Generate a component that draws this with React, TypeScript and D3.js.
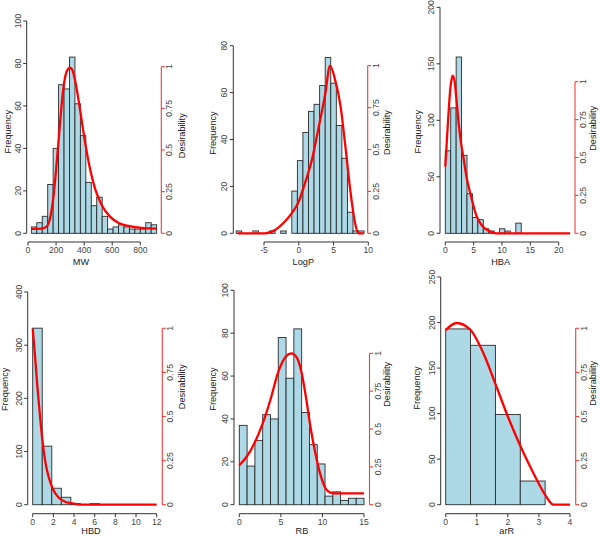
import React from "react";
import * as d3 from "d3";

// ---------------- DATA ----------------
// MW
const mwCounts = [3, 5, 8, 23, 40, 70, 68, 83, 61, 46, 24, 13, 17, 8, 2, 3, 4, 3, 2, 2, 2, 5, 4];
const mwBinStart = 24;
const mwBinWidth = 38.8;
const mwCurveX = [24, 97, 133, 157, 180, 204, 228, 252, 275, 299, 316, 335, 358, 382, 406, 441, 477, 525, 584, 643, 714, 809, 916];
const mwCurveD = [0.026, 0.028, 0.04, 0.09, 0.21, 0.42, 0.66, 0.87, 0.97, 0.995, 0.98, 0.92, 0.81, 0.68, 0.55, 0.39, 0.27, 0.17, 0.1, 0.064, 0.044, 0.032, 0.028];
const mwXTicks = [0, 200, 400, 600, 800];
const mwYTicks = [0, 20, 40, 60, 80, 100];

// LogP
const logpCounts = [1, 0, 0, 1, 0, 0, 1, 0, 1, 0, 18, 31, 43, 52, 55, 63, 75, 64, 46, 32, 9, 1, 1];
const logpBinStart = -9;
const logpBinWidth = 0.8;
const logpCurveX = [-8.8, -4.9, -3.4, -2.0, -1.0, 0, 0.9, 1.9, 2.8, 3.8, 4.5, 5.2, 6.0, 6.7, 7.4, 8.1, 8.6, 9.3];
const logpCurveD = [0, 0, 0.02, 0.07, 0.12, 0.19, 0.3, 0.44, 0.62, 0.83, 1.0, 0.92, 0.76, 0.52, 0.26, 0.06, 0, 0];
const logpXTicks = [-5, 0, 5, 10];
const logpYTicks = [0, 20, 40, 60, 80];

// HBA
const hbaCounts = [73, 111, 156, 69, 35, 14, 12, 4, 2, 0, 4, 2, 0, 9, 0, 0, 0, 0, 0, 0, 0, 0, 0];
const hbaBinStart = 0;
const hbaBinWidth = 22 / 23;
const hbaCurveX = [0, 0.45, 0.9, 1.3, 1.65, 2.0, 2.4, 2.8, 3.2, 3.7, 4.5, 5.6, 6.5, 7.5, 9.0, 22];
const hbaCurveD = [0.44, 0.72, 0.96, 1.04, 1.0, 0.87, 0.71, 0.59, 0.5, 0.38, 0.25, 0.105, 0.05, 0.02, 0, 0];
const hbaXTicks = [0, 5, 10, 15, 20];
const hbaYTicks = [0, 50, 100, 150, 200];

// HBD
const hbdCounts = [332, 110, 31, 14, 2, 0, 2, 0, 0, 0, 0, 0, 0];
const hbdBinStart = 0;
const hbdBinWidth = 12 / 13;
const hbdCurveX = [0, 0.23, 0.45, 0.71, 0.97, 1.26, 1.58, 2.0, 2.48, 3.13, 3.77, 4.74, 12];
const hbdCurveD = [1.0, 0.84, 0.67, 0.5, 0.35, 0.23, 0.15, 0.083, 0.042, 0.017, 0.008, 0, 0];
const hbdXTicks = [0, 2, 4, 6, 8, 10, 12];
const hbdYTicks = [0, 100, 200, 300, 400];

// RB
const rbCounts = [37, 18, 30, 42, 40, 78, 59, 82, 43, 28, 19, 4, 6, 2, 3, 3];
const rbBinStart = 0;
const rbBinWidth = 15 / 16;
const rbCurveX = [0, 0.92, 1.85, 2.77, 3.73, 4.65, 5.62, 6.26, 6.94, 7.46, 8.02, 8.54, 9.15, 9.75, 10.35, 10.95, 11.55, 15];
const rbCurveD = [0.26, 0.32, 0.41, 0.53, 0.69, 0.87, 0.98, 1.0, 0.97, 0.88, 0.71, 0.52, 0.34, 0.2, 0.11, 0.08, 0.075, 0.075];
const rbXTicks = [0, 5, 10, 15];
const rbYTicks = [0, 20, 40, 60, 80, 100];

// arR
const arrCounts = [193, 175, 99, 26];
const arrBinStart = 0;
const arrBinWidth = 0.8;
const arrCurveX = [0, 0.35, 0.8, 1.21, 1.61, 2.0, 2.41, 2.82, 3.22, 3.46, 4.0];
const arrCurveD = [0.99, 1.03, 0.99, 0.86, 0.68, 0.5, 0.33, 0.18, 0.05, 0, 0];
const arrXTicks = [0, 1, 2, 3, 4];
const arrYTicks = [0, 50, 100, 150, 200, 250];

const desirTicks = [0, 0.25, 0.5, 0.75, 1];
const desirTickLabels = ["0", "0.25", "0.5", "0.75", "1"];

const xLabels = ["MW", "LogP", "HBA", "HBD", "RB", "arR"];

// ---------------- LAYOUT ----------------
type Layout = {
  xDom: [number, number]; xRng: [number, number];
  yDom: [number, number]; yRng: [number, number];
  dRng: [number, number];
  yAxisX: number; xAxisY: number; rightX: number;
  freq: [number, number]; xlab: [number, number]; des: [number, number];
};

const layouts: Layout[] = [
  { xDom: [0, 800], xRng: [28, 140.3], yDom: [0, 100], yRng: [233.3, 21], dRng: [233.3, 66.7], yAxisX: 26.7, xAxisY: 242, rightX: 161.3, freq: [8, 131.7], xlab: [81, 261.7], des: [181.7, 135.7] },
  { xDom: [-5, 10], xRng: [264, 368.3], yDom: [0, 80], yRng: [233.3, 45.7], dRng: [233.3, 65.7], yAxisX: 233.3, xAxisY: 242, rightX: 367.7, freq: [213, 133], xlab: [303.3, 261.7], des: [387.3, 132.5] },
  { xDom: [0, 20], xRng: [445.3, 558.7], yDom: [0, 200], yRng: [233.3, 7.3], dRng: [233.3, 81.7], yAxisX: 440, xAxisY: 242, rightX: 575, freq: [418, 131.7], xlab: [500.7, 261.7], des: [592.7, 128.3] },
  { xDom: [0, 12], xRng: [32.7, 156.7], yDom: [0, 400], yRng: [504.7, 292], dRng: [504.7, 328.3], yAxisX: 27.7, xAxisY: 513.7, rightX: 162.3, freq: [5, 389.3], xlab: [91, 531], des: [181.7, 386.7] },
  { xDom: [0, 15], xRng: [239.3, 364], yDom: [0, 100], yRng: [504.7, 290.3], dRng: [504.7, 353.3], yAxisX: 234, xAxisY: 513.7, rightX: 369.5, freq: [212.7, 389], xlab: [302, 531], des: [387.3, 384.3] },
  { xDom: [0, 4], xRng: [445.7, 570], yDom: [0, 250], yRng: [504.7, 277], dRng: [504.7, 328.3], yAxisX: 440.7, xAxisY: 513.7, rightX: 575.7, freq: [416.7, 388], xlab: [506.7, 531], des: [593.3, 383.3] },
];

type PanelData = {
  counts: number[]; binStart: number; binWidth: number;
  curveX: number[]; curveD: number[]; xTicks: number[]; yTicks: number[];
};

const panelData: PanelData[] = [
  { counts: mwCounts, binStart: mwBinStart, binWidth: mwBinWidth, curveX: mwCurveX, curveD: mwCurveD, xTicks: mwXTicks, yTicks: mwYTicks },
  { counts: logpCounts, binStart: logpBinStart, binWidth: logpBinWidth, curveX: logpCurveX, curveD: logpCurveD, xTicks: logpXTicks, yTicks: logpYTicks },
  { counts: hbaCounts, binStart: hbaBinStart, binWidth: hbaBinWidth, curveX: hbaCurveX, curveD: hbaCurveD, xTicks: hbaXTicks, yTicks: hbaYTicks },
  { counts: hbdCounts, binStart: hbdBinStart, binWidth: hbdBinWidth, curveX: hbdCurveX, curveD: hbdCurveD, xTicks: hbdXTicks, yTicks: hbdYTicks },
  { counts: rbCounts, binStart: rbBinStart, binWidth: rbBinWidth, curveX: rbCurveX, curveD: rbCurveD, xTicks: rbXTicks, yTicks: rbYTicks },
  { counts: arrCounts, binStart: arrBinStart, binWidth: arrBinWidth, curveX: arrCurveX, curveD: arrCurveD, xTicks: arrXTicks, yTicks: arrYTicks },
];

const FONT = "'Liberation Sans', Arial, Helvetica, sans-serif";
const AXIS_COLOR = "#333";
const TICK_TEXT = "#444";
const BAR_FILL = "#add8e6";
const BAR_STROKE = "#2b2b2b";
const CURVE = "#ff0000";
const RIGHT_AXIS = "#f03c3c";
const TICK_LEN = 3.5;

function Panel({ d, L, label }: { d: PanelData; L: Layout; label: string }) {
  const x = d3.scaleLinear().domain(L.xDom).range(L.xRng);
  const y = d3.scaleLinear().domain(L.yDom).range(L.yRng);
  const yd = d3.scaleLinear().domain([0, 1]).range(L.dRng);
  const pts: [number, number][] = d.curveX.map((v, i) => [v, d.curveD[i]]);
  const line = d3.line<[number, number]>().x((p) => x(p[0])).y((p) => yd(p[1])).curve(d3.curveMonotoneX);
  const yFirst = d.yTicks[0];
  const yLast = d.yTicks[d.yTicks.length - 1];
  const xFirst = d.xTicks[0];
  const xLast = d.xTicks[d.xTicks.length - 1];
  return (
    <g>
      {/* bars */}
      {d.counts.map((c, i) => {
        const x0 = d.binStart + i * d.binWidth;
        const x1 = x0 + d.binWidth;
        return (
          <rect key={i} x={x(x0)} y={y(c)} width={x(x1) - x(x0)} height={y(0) - y(c)}
            fill={BAR_FILL} stroke={BAR_STROKE} strokeWidth={0.9} />
        );
      })}
      {/* curve */}
      <path d={line(pts) || ""} fill="none" stroke={CURVE} strokeWidth={2.3} strokeLinejoin="round" />
      {/* left axis */}
      <line x1={L.yAxisX} x2={L.yAxisX} y1={y(yFirst)} y2={y(yLast)} stroke={AXIS_COLOR} strokeWidth={1} />
      {d.yTicks.map((t) => (
        <g key={"y" + t}>
          <line x1={L.yAxisX - TICK_LEN} x2={L.yAxisX} y1={y(t)} y2={y(t)} stroke={AXIS_COLOR} strokeWidth={1} />
          <text transform={`translate(${L.yAxisX - 9},${y(t)}) rotate(-90)`} textAnchor="middle"
            dominantBaseline="central" fontSize={8.6} fill={TICK_TEXT} fontFamily={FONT}>{t}</text>
        </g>
      ))}
      {/* bottom axis */}
      <line x1={x(xFirst)} x2={x(xLast)} y1={L.xAxisY} y2={L.xAxisY} stroke={AXIS_COLOR} strokeWidth={1} />
      {d.xTicks.map((t) => (
        <g key={"x" + t}>
          <line x1={x(t)} x2={x(t)} y1={L.xAxisY} y2={L.xAxisY + TICK_LEN} stroke={AXIS_COLOR} strokeWidth={1} />
          <text x={x(t)} y={L.xAxisY + 8} textAnchor="middle" dominantBaseline="central"
            fontSize={8.6} fill={TICK_TEXT} fontFamily={FONT}>{t}</text>
        </g>
      ))}
      {/* right axis */}
      <line x1={L.rightX} x2={L.rightX} y1={yd(0)} y2={yd(1)} stroke={RIGHT_AXIS} strokeWidth={1.1} />
      {desirTicks.map((t, i) => (
        <g key={"d" + t}>
          <line x1={L.rightX} x2={L.rightX + TICK_LEN} y1={yd(t)} y2={yd(t)} stroke={RIGHT_AXIS} strokeWidth={1.1} />
          <text transform={`translate(${L.rightX + 8},${yd(t)}) rotate(-90)`} textAnchor="middle"
            dominantBaseline="central" fontSize={8.6} fill={TICK_TEXT} fontFamily={FONT}>{desirTickLabels[i]}</text>
        </g>
      ))}
      {/* titles */}
      <text transform={`translate(${L.freq[0]},${L.freq[1]}) rotate(-90)`} textAnchor="middle"
        dominantBaseline="central" fontSize={9.2} fill="#222" fontFamily={FONT}>Frequency</text>
      <text transform={`translate(${L.des[0]},${L.des[1]}) rotate(-90)`} textAnchor="middle"
        dominantBaseline="central" fontSize={9.2} fill="#222" fontFamily={FONT}>Desirability</text>
      <text x={L.xlab[0]} y={L.xlab[1]} textAnchor="middle" dominantBaseline="central"
        fontSize={9.2} fill="#222" fontFamily={FONT}>{label}</text>
    </g>
  );
}

export default function App() {
  return (
    <svg width={600} height={536} style={{ position: "absolute", left: 0, top: 0, background: "#fff" }}>
      <rect x={0} y={0} width={600} height={536} fill="#fff" />
      {panelData.map((d, i) => (
        <Panel key={i} d={d} L={layouts[i]} label={xLabels[i]} />
      ))}
    </svg>
  );
}
